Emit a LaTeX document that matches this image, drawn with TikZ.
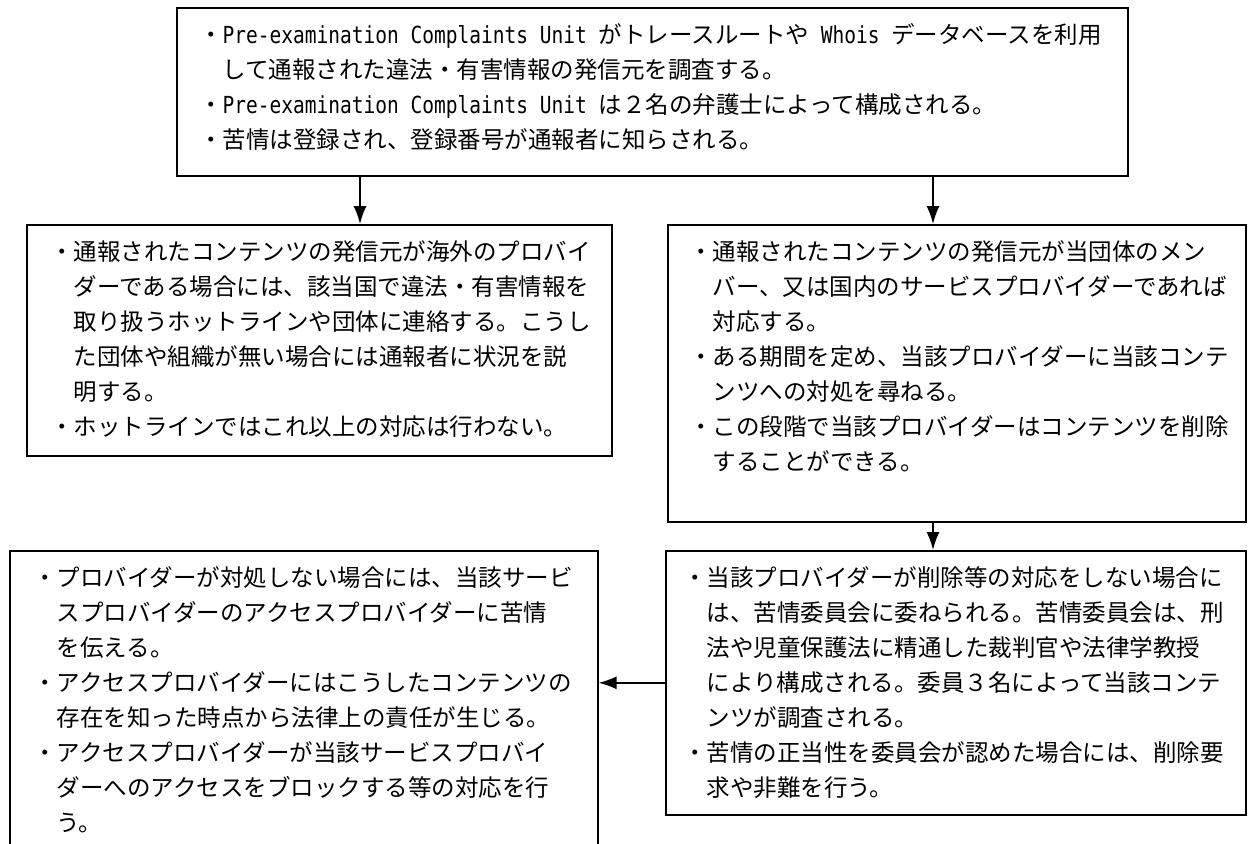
\documentclass[tikz,border=0pt]{standalone}
\usepackage{fontspec}
\setmainfont{Noto Sans CJK JP}
\newfontfamily\latn[FakeStretch=0.8306]{DejaVu Sans Mono}
\newcommand\lt[1]{{\latn #1}}
\usetikzlibrary{arrows.meta}
\begin{document}
\begin{tikzpicture}[x=1pt,y=-1pt,
  box/.style={draw,line width=1.6pt,rectangle,inner sep=0pt,anchor=north west},
  txt/.style={anchor=north west,inner sep=0pt,align=left,font=\fontsize{23.5}{35}\selectfont},
  arr/.style={line width=1.6pt,-{Latex[length=18pt,width=13pt]}}]
\useasboundingbox (0,0) rectangle (1254,844);
\clip (0,0) rectangle (1254,844);
% boxes
\node[box,minimum width=951pt,minimum height=168pt] (top) at (176,7) {};
\node[box,minimum width=585pt,minimum height=231pt] (box2) at (26,224) {};
\node[box,minimum width=578pt,minimum height=297pt] (box3) at (667,224) {};
\node[box,minimum width=588pt,minimum height=330pt] (box4) at (9,550) {};
\node[box,minimum width=580pt,minimum height=264pt] (box5) at (665,550) {};
% texts
\node[txt] (t1) at (199,23) {・\lt{Pre-examination Complaints Unit }がトレースルートや\lt{ Whois }データベースを利用\\
\hspace*{1em}して通報された違法・有害情報の発信元を調査する。\\
・\lt{Pre-examination Complaints Unit }は２名の弁護士によって構成される。\\
・苦情は登録され、登録番号が通報者に知らされる。};
\node[txt] (t2) at (50,240) {・通報されたコンテンツの発信元が海外のプロバイ\\
\hspace*{1em}ダーである場合には、該当国で違法・有害情報を\\
\hspace*{1em}取り扱うホットラインや団体に連絡する。こうし\\
\hspace*{1em}た団体や組織が無い場合には通報者に状況を説\\
\hspace*{1em}明する。\\
・ホットラインではこれ以上の対応は行わない。};
\node[txt] (t3) at (689,240) {・通報されたコンテンツの発信元が当団体のメン\\
\hspace*{1em}バー、又は国内のサービスプロバイダーであれば\\
\hspace*{1em}対応する。\\
・ある期間を定め、当該プロバイダーに当該コンテ\\
\hspace*{1em}ンツへの対処を尋ねる。\\
・この段階で当該プロバイダーはコンテンツを削除\\
\hspace*{1em}することができる。};
\node[txt] (t4) at (33,566) {・プロバイダーが対処しない場合には、当該サービ\\
\hspace*{1em}スプロバイダーのアクセスプロバイダーに苦情\\
\hspace*{1em}を伝える。\\
・アクセスプロバイダーにはこうしたコンテンツの\\
\hspace*{1em}存在を知った時点から法律上の責任が生じる。\\
・アクセスプロバイダーが当該サービスプロバイ\\
\hspace*{1em}ダーへのアクセスをブロックする等の対応を行\\
\hspace*{1em}う。};
\node[txt] (t5) at (683,566) {・当該プロバイダーが削除等の対応をしない場合に\\
\hspace*{1em}は、苦情委員会に委ねられる。苦情委員会は、刑\\
\hspace*{1em}法や児童保護法に精通した裁判官や法律学教授\\
\hspace*{1em}により構成される。委員３名によって当該コンテ\\
\hspace*{1em}ンツが調査される。\\
・苦情の正当性を委員会が認めた場合には、削除要\\
\hspace*{1em}求や非難を行う。};
% connectors
\draw[arr] ([xshift=184pt]top.south west) -- ([xshift=184pt]top.south west |- box2.north);
\draw[arr] ([xshift=757pt]top.south west) -- ([xshift=757pt]top.south west |- box3.north);
\draw[arr] ([xshift=266pt]box3.south west) -- ([xshift=266pt]box3.south west |- box5.north);
\draw[arr] (box5.west) -- (box5.west -| box4.east);
\end{tikzpicture}
\end{document}
